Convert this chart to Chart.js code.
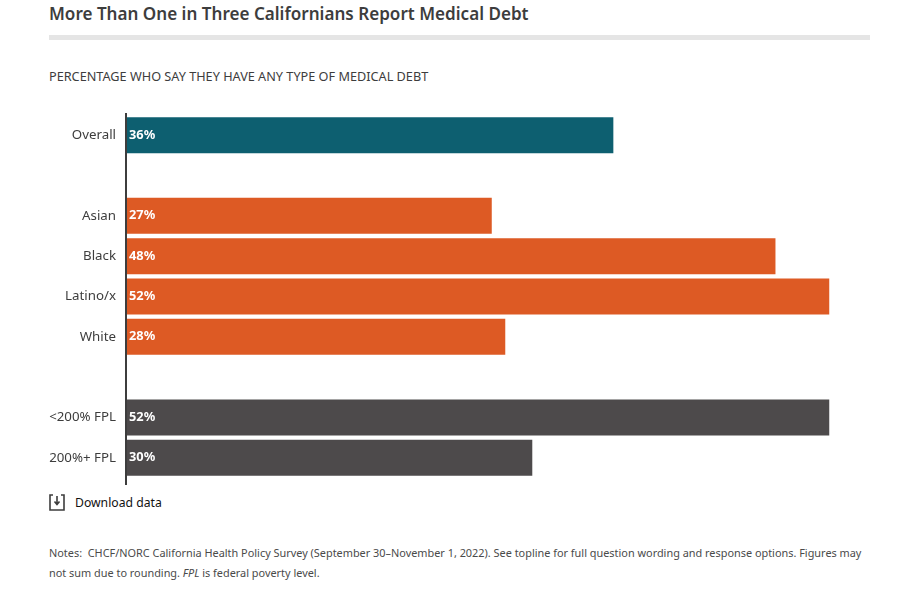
<!DOCTYPE html>
<html>
<head>
<meta charset="utf-8">
<title>Medical debt</title>
<script src="https://cdn.jsdelivr.net/npm/chart.js@4"></script>
<style>
  html, body { margin: 0; padding: 0; background: #fff; }
  body { width: 908px; height: 606px; position: relative; overflow: hidden; font-family: "Noto Sans", sans-serif; }
  #title { position: absolute; left: 49px; top: 1px; font-size: 17.08px; line-height: 26px; font-weight: 600; color: #3d3d3d; white-space: nowrap; }
  #rule { position: absolute; left: 49px; top: 35px; width: 821px; height: 5px; background: #e5e5e5; }
  #subtitle { position: absolute; left: 49px; top: 67px; font-size: 12.7px; line-height: 18px; color: #3d3d3d; white-space: nowrap; }
  #wrap { position: absolute; left: 0; top: 100px; width: 908px; height: 392px; }
  #icon { position: absolute; left: 49px; top: 494px; }
  #download { position: absolute; left: 75px; top: 494px; font-size: 12.2px; line-height: 18px; color: #111; white-space: nowrap; }
  #notes { position: absolute; left: 49px; top: 543px; font-size: 10.9px; line-height: 20px; color: #4a4a4a; white-space: nowrap; }
</style>
</head>
<body>
<div id="title">More Than One in Three Californians Report Medical Debt</div>
<div id="rule"></div>
<div id="subtitle">PERCENTAGE WHO SAY THEY HAVE ANY TYPE OF MEDICAL DEBT</div>
<div id="wrap"><canvas id="myChart"></canvas></div>
<svg id="icon" width="16" height="17" viewBox="0 0 16 17" fill="none" stroke="#3d3d3d" stroke-width="1.6">
  <path d="M4 1H1v15h14V1h-3"/>
  <path d="M8 2v8M5.5 7.5 8 10.5l2.500-3"/>
</svg>
<div id="download">Download data</div>
<div id="notes">Notes:&nbsp; CHCF/NORC California Health Policy Survey (September 30–November 1, 2022). See topline for full question wording and response options. Figures may<br>not sum due to rounding. <i>FPL</i> is federal poverty level.</div>
<script>
const categories = ["Overall", "", "Asian", "Black", "Latino/x", "White", "", "<200% FPL", "200%+ FPL"];
const values = [36, null, 27, 48, 52, 28, null, 52, 30];
const barColors = ["#0d5f70", null, "#dd5a24", "#dd5a24", "#dd5a24", "#dd5a24", null, "#4d4a4b", "#4d4a4b"];

// percent labels inside the bars, and the axis line that runs past them
const barLabels = {
  id: "barLabels",
  afterDatasetsDraw(chart) {
    const ctx = chart.ctx;
    const meta = chart.getDatasetMeta(0);
    ctx.save();
    ctx.font = "700 12.8px 'Noto Sans', sans-serif";
    ctx.fillStyle = "#fff";
    ctx.textAlign = "left";
    ctx.textBaseline = "middle";
    meta.data.forEach((bar, i) => {
      if (values[i] === null) return;
      ctx.fillText(values[i] + "%", bar.base + 2, bar.y);
    });
    ctx.strokeStyle = "#3d3d3d";
    ctx.lineWidth = 2;
    const x = chart.scales.x.left - 1;
    ctx.beginPath();
    ctx.moveTo(x, 13);
    ctx.lineTo(x, 385);
    ctx.stroke();
    ctx.restore();
  },
};

const data = {
  labels: categories,
  datasets: [
    {
      data: values,
      backgroundColor: barColors,
      barPercentage: 0.893,
      categoryPercentage: 1,
    },
  ],
};

const config = {
  type: "bar",
  data: data,
  options: {
    indexAxis: "y",
    responsive: false,
    animation: false,
    layout: { padding: { top: 15, bottom: 14, right: 78.5 } },
    plugins: { legend: { display: false }, tooltip: { enabled: false } },
    scales: {
      x: { min: 0, max: 52, display: false },
      y: {
        afterFit(scale) {
          scale.width = 127;
        },
        border: { display: false },
        // tick marks are invisible, they only push the labels off the axis
        grid: { drawOnChartArea: false, tickLength: 11, tickColor: "transparent" },
        ticks: {
          color: "#3d3d3d",
          padding: 0,
          autoSkip: false,
          font: { family: "'Noto Sans', sans-serif", size: 13.3 },
        },
      },
    },
  },
  plugins: [barLabels],
};

const canvas = document.getElementById("myChart");
canvas.width = 908;
canvas.height = 392;
const myChart = new Chart(canvas, config);
</script>
</body>
</html>
